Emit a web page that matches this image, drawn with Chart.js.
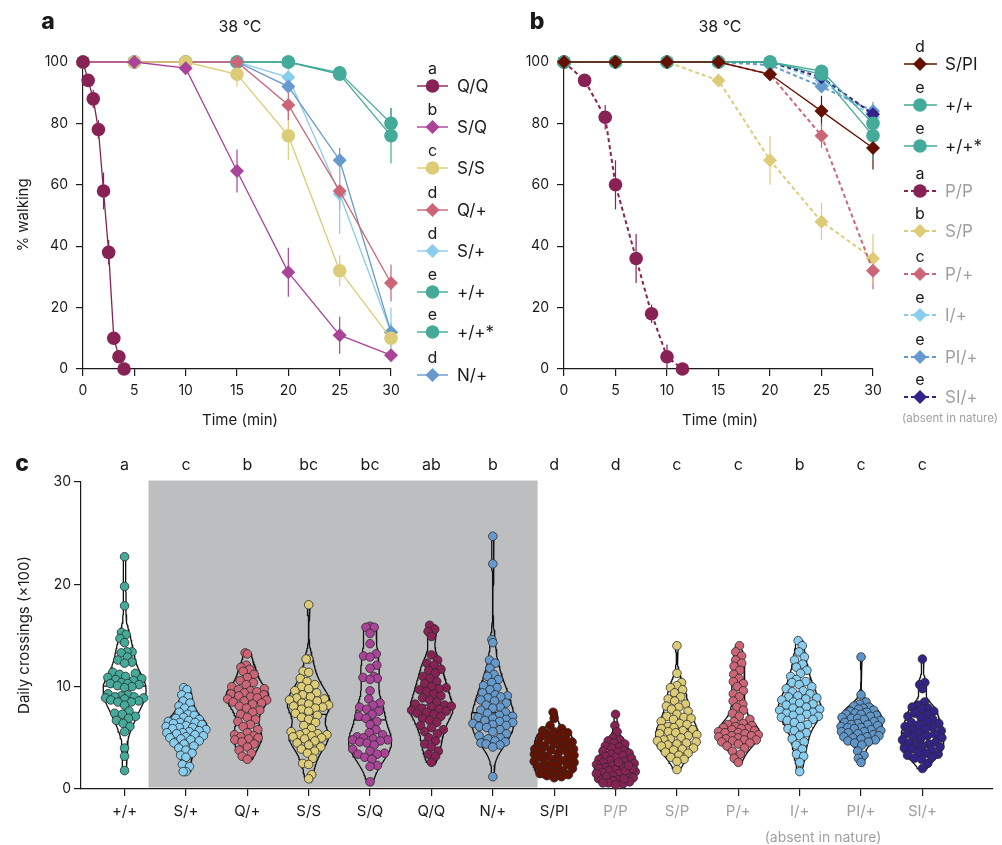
<!DOCTYPE html>
<html>
<head>
<meta charset="utf-8">
<script src="https://cdn.jsdelivr.net/npm/chart.js@4.4.1/dist/chart.umd.min.js"></script>
<style>
  body { margin: 0; background: #fff; width: 1002px; height: 845px; position: relative; overflow: hidden;
         font-family: Inter, "Open Sans", sans-serif; color: #1a1a1a; }
  canvas { position: absolute; }
  .t { position: absolute; transform: translate(-50%, -50%); white-space: nowrap; }
  .rot { transform: translate(-50%, -50%) rotate(-90deg); }
  .pl { font-weight: 800; font-size: 23px; }
</style>
</head>
<body>
<canvas id="chartA" width="500" height="430" style="left:0;top:0"></canvas>
<canvas id="chartB" width="502" height="430" style="left:500px;top:0"></canvas>
<canvas id="chartC" width="1002" height="405" style="left:0;top:440px"></canvas>

<div class="t pl" style="left:48px;top:21px">a</div>
<div class="t pl" style="left:537px;top:21px">b</div>
<div class="t pl" style="left:22px;top:463px">c</div>
<div class="t" style="left:240px;top:26px;font-size:16px">38 °C</div>
<div class="t" style="left:720px;top:26px;font-size:16px">38 °C</div>
<div class="t rot" style="left:22px;top:215px;font-size:15px">% walking</div>
<div class="t" style="left:240px;top:419px;font-size:15px">Time (min)</div>
<div class="t" style="left:720px;top:419px;font-size:15px">Time (min)</div>
<div class="t" style="left:950px;top:418px;font-size:11.5px;color:#a0a0a0">(absent in nature)</div>
<div class="t rot" style="left:23px;top:635px;font-size:15px">Daily crossings (×100)</div>
<div class="t" style="left:823px;top:836px;font-size:14px;color:#a0a0a0">(absent in nature)</div>

<script>
// ---------- panel a : % walking at 38 °C ----------
var timesA = [0, 5, 10, 15, 20, 25, 30];
var timesQQ = [0, 0.5, 1, 1.5, 2, 2.5, 3, 3.5, 4];
var qqA = [100, 94, 88, 78, 58, 38, 10, 4, 0];
var qqErrA = [0, 1, 3, 3, 6, 4, 2, 1, 0];
var sqA = [100, 100, 98, 64.5, 31.5, 11, 4.5];
var sqErrA = [0, 0, 1, 7, 8, 6, 2];
var ssA = [100, 100, 100, 96, 76, 32, 10];
var ssErrA = [0, 0, 0, 4, 8, 5, 3];
var qpA = [100, 100, 100, 100, 86, 58, 28];
var qpErrA = [0, 0, 0, 1, 5, 6, 6];
var spA = [100, 100, 100, 100, 95, 57, 12];
var spErrA = [0, 0, 0, 0, 3, 13, 8];
var wtA = [100, 100, 100, 100, 100, 96.5, 80];
var wtErrA = [0, 0, 0, 0, 0, 2, 5];
var wt2A = [100, 100, 100, 100, 100, 96, 76];
var wt2ErrA = [0, 0, 0, 0, 0, 2, 9];
var npA = [100, 100, 100, 100, 92, 68, 12];
var npErrA = [0, 0, 0, 0, 2, 4, 3];

// ---------- panel b ----------
var timesB = [0, 5, 10, 15, 20, 25, 30];
var timesPP = [0, 2, 4, 5, 7, 8.5, 10, 11.5];
var spiB = [100, 100, 100, 100, 96, 84, 72];
var spiErrB = [0, 0, 0, 0, 1, 5, 7];
var wtB = [100, 100, 100, 100, 100, 97, 80];
var wtErrB = [0, 0, 0, 0, 0, 2, 4];
var wt2B = [100, 100, 100, 100, 100, 96, 76];
var wt2ErrB = [0, 0, 0, 0, 0, 2, 8];
var ppB = [100, 94, 82, 60, 36, 18, 4, 0];
var ppErrB = [0, 1, 4, 8, 8, 3, 4, 0];
var sPB = [100, 100, 100, 94, 68, 48, 36];
var sPErrB = [0, 0, 0, 1, 8, 6, 8];
var pPlusB = [100, 100, 100, 100, 96, 76, 32];
var pPlusErrB = [0, 0, 0, 0, 1, 4, 6];
var iPlusB = [100, 100, 100, 100, 100, 94, 82];
var iPlusErrB = [0, 0, 0, 0, 0, 1, 3];
var piPlusB = [100, 100, 100, 100, 99, 92, 84];
var piPlusErrB = [0, 0, 0, 0, 0, 1, 3];
var siPlusB = [100, 100, 100, 100, 100, 95, 83];
var siPlusErrB = [0, 0, 0, 0, 0, 1, 2];

// ---------- panel c : daily crossings (x100) ----------
var catLabels = ['+/+', 'S/+', 'Q/+', 'S/S', 'S/Q', 'Q/Q', 'N/+', 'S/PI', 'P/P', 'S/P', 'P/+', 'I/+', 'PI/+', 'SI/+'];
var catLetters = ['a', 'c', 'b', 'bc', 'bc', 'ab', 'b', 'd', 'd', 'c', 'c', 'b', 'c', 'c'];
var wtC = [22.7, 19.8, 17.9, 15.3, 15.1, 14.7, 14.3, 13.4, 13.4, 13.3, 12.9, 12.6, 12.4, 12.3, 11.4, 11.3, 11.2, 11.0, 10.9, 10.8, 10.7, 10.6, 10.4, 10.3, 10.3, 10.2, 10.1, 10.0, 9.9, 9.3, 9.2, 9.1, 9.0, 9.0, 8.9, 8.9, 8.8, 8.7, 8.6, 8.5, 8.5, 8.2, 7.6, 7.4, 7.3, 7.1, 6.9, 6.7, 6.4, 6.1, 5.6, 4.0, 3.2, 1.8];
var sPlusC = [9.9, 9.7, 9.2, 9.0, 8.6, 8.4, 8.1, 7.9, 7.7, 7.5, 7.3, 7.2, 7.0, 6.9, 6.8, 6.7, 6.6, 6.5, 6.5, 6.4, 6.3, 6.2, 6.1, 6.0, 6.0, 5.9, 5.8, 5.7, 5.6, 5.5, 5.5, 5.4, 5.3, 5.2, 5.1, 5.0, 4.9, 4.8, 4.7, 4.5, 4.4, 4.2, 4.0, 3.8, 3.5, 3.3, 3.1, 2.4, 2.2, 1.7, 1.7];
var qPlusC = [13.3, 13.2, 12.1, 11.9, 11.7, 11.5, 11.2, 10.9, 10.6, 10.4, 10.2, 10.0, 9.8, 9.7, 9.6, 9.5, 9.4, 9.3, 9.2, 9.1, 9.0, 8.9, 8.8, 8.7, 8.6, 8.5, 8.4, 8.3, 8.1, 7.9, 7.7, 7.5, 7.3, 7.0, 6.8, 6.6, 6.3, 6.1, 5.8, 5.5, 5.3, 5.2, 5.1, 5.0, 4.9, 4.8, 4.6, 4.4, 4.1, 3.8, 3.5, 3.2, 2.9];
var ssC = [18.0, 12.7, 12.7, 11.5, 11.4, 10.8, 10.5, 10.2, 10.0, 9.8, 9.6, 9.4, 9.2, 9.0, 8.9, 8.8, 8.7, 8.6, 8.4, 8.3, 8.2, 8.1, 8.0, 7.9, 7.8, 7.6, 7.4, 7.2, 7.0, 6.8, 6.5, 6.2, 5.9, 5.6, 5.5, 5.4, 5.3, 5.3, 5.2, 5.1, 5.0, 4.9, 4.7, 4.5, 4.3, 4.1, 3.9, 3.7, 3.5, 3.0, 2.5, 2.4, 1.4, 1.0];
var sqC = [15.9, 15.8, 15.8, 15.2, 14.2, 13.2, 13.0, 12.9, 12.1, 11.8, 11.0, 10.9, 10.8, 10.7, 9.6, 8.8, 8.4, 8.2, 8.0, 7.8, 7.6, 7.3, 7.1, 6.9, 6.6, 6.3, 5.8, 5.5, 5.3, 5.1, 5.0, 4.9, 4.8, 4.8, 4.7, 4.6, 4.5, 4.3, 3.9, 3.7, 3.5, 3.4, 3.4, 3.1, 2.9, 2.3, 2.2, 0.7];
var qqC = [16.0, 15.6, 15.4, 14.9, 13.1, 12.6, 12.3, 12.1, 11.7, 11.6, 11.3, 11.0, 10.8, 10.5, 10.3, 10.0, 9.9, 9.8, 9.7, 9.5, 9.3, 9.1, 8.9, 8.7, 8.5, 8.3, 8.2, 8.1, 8.0, 7.9, 7.8, 7.7, 7.6, 7.5, 7.4, 7.3, 7.1, 6.9, 6.7, 6.5, 6.2, 6.0, 5.8, 5.6, 5.4, 5.0, 4.7, 4.4, 4.1, 3.7, 3.4, 3.2, 2.6];
var nPlusC = [24.7, 22.0, 14.6, 14.3, 12.6, 12.3, 11.8, 11.2, 11.0, 10.7, 10.4, 10.1, 9.9, 9.7, 9.4, 9.2, 9.1, 9.0, 8.9, 8.7, 8.6, 8.4, 8.2, 8.0, 7.9, 7.7, 7.5, 7.4, 7.2, 7.1, 7.0, 6.9, 6.8, 6.7, 6.6, 6.5, 6.4, 6.3, 6.2, 6.1, 6.0, 5.8, 5.6, 5.4, 5.2, 5.0, 4.9, 4.7, 4.6, 4.5, 4.4, 4.3, 4.1, 1.2];
var spiC = [7.5, 6.9, 6.2, 5.9, 5.7, 5.6, 5.5, 5.4, 5.3, 5.1, 5.0, 4.9, 4.8, 4.7, 4.5, 4.4, 4.3, 4.2, 4.0, 3.9, 3.9, 3.8, 3.7, 3.5, 3.4, 3.3, 3.2, 3.1, 3.0, 2.9, 2.8, 2.7, 2.6, 2.5, 2.4, 2.4, 2.3, 2.2, 2.0, 1.9, 1.8, 1.7, 1.6, 1.5, 1.4, 1.3, 1.2, 1.1, 4.6, 3.6];
var ppC = [7.3, 6.2, 5.6, 5.0, 4.8, 4.7, 4.5, 4.4, 4.2, 4.1, 4.0, 3.8, 3.7, 3.6, 3.5, 3.4, 3.3, 3.2, 3.1, 3.0, 2.9, 2.8, 2.7, 2.6, 2.5, 2.4, 2.3, 2.2, 2.1, 2.0, 1.9, 1.8, 1.7, 1.6, 1.5, 1.4, 1.3, 1.2, 1.1, 1.0, 0.9, 0.8, 0.7, 0.6, 0.5, 0.4, 1.5, 2.0, 2.6, 1.0, 0.6, 1.8, 2.3];
var sPC = [14.0, 11.3, 10.4, 10.1, 9.9, 9.7, 9.4, 9.0, 8.8, 8.6, 8.3, 8.1, 8.0, 7.8, 7.6, 7.3, 7.1, 7.0, 6.9, 6.8, 6.6, 6.4, 6.3, 6.1, 6.0, 5.9, 5.8, 5.7, 5.6, 5.5, 5.4, 5.3, 5.2, 5.0, 4.9, 4.8, 4.7, 4.6, 4.5, 4.4, 4.3, 4.2, 4.0, 3.9, 3.8, 3.6, 3.5, 3.3, 3.1, 2.9, 2.7, 1.9];
var pPlusC = [14.0, 13.4, 13.0, 12.6, 12.3, 12.0, 11.6, 11.2, 10.8, 10.5, 10.3, 10.0, 9.6, 9.3, 9.0, 8.6, 8.3, 8.0, 7.7, 7.4, 7.1, 6.8, 6.6, 6.4, 6.3, 6.2, 6.1, 6.0, 5.9, 5.9, 5.8, 5.7, 5.6, 5.5, 5.5, 5.4, 5.3, 5.2, 5.2, 5.1, 5.0, 4.9, 4.8, 4.8, 4.7, 4.6, 4.5, 4.4, 4.2, 4.0, 3.7, 3.4, 3.0, 2.6];
var iPlusC = [14.5, 14.0, 13.4, 12.9, 12.6, 12.2, 11.9, 11.6, 11.3, 11.0, 10.7, 10.5, 10.4, 10.2, 10.0, 9.8, 9.6, 9.5, 9.3, 9.1, 9.0, 8.9, 8.8, 8.7, 8.5, 8.4, 8.3, 8.2, 8.0, 7.9, 7.8, 7.7, 7.6, 7.5, 7.4, 7.3, 7.2, 7.1, 7.0, 6.9, 6.8, 6.7, 6.5, 6.3, 6.1, 5.9, 5.7, 5.5, 5.2, 4.9, 4.6, 4.3, 3.9, 3.4, 3.2, 2.6, 1.7];
var piPlusC = [12.9, 9.2, 8.5, 8.3, 8.1, 8.0, 7.9, 7.8, 7.7, 7.6, 7.5, 7.4, 7.3, 7.3, 7.2, 7.1, 7.0, 6.9, 6.9, 6.8, 6.7, 6.6, 6.5, 6.4, 6.3, 6.3, 6.2, 6.1, 6.0, 6.0, 5.9, 5.8, 5.7, 5.6, 5.6, 5.5, 5.4, 5.3, 5.2, 5.1, 5.1, 5.0, 4.9, 4.8, 4.7, 4.6, 4.5, 4.3, 3.7, 3.3, 3.0, 2.6];
var siPlusC = [12.7, 10.4, 10.2, 9.8, 8.5, 8.2, 8.0, 7.9, 7.8, 7.6, 7.4, 7.3, 7.1, 7.0, 6.8, 6.6, 6.5, 6.4, 6.3, 6.1, 6.0, 5.9, 5.8, 5.7, 5.5, 5.4, 5.3, 5.2, 5.1, 5.0, 4.9, 4.8, 4.6, 4.5, 4.4, 4.3, 4.2, 4.1, 4.0, 3.9, 3.8, 3.6, 3.5, 3.4, 3.3, 3.1, 3.0, 2.9, 2.5, 2.0];
var catValues = [wtC, sPlusC, qPlusC, ssC, sqC, qqC, nPlusC, spiC, ppC, sPC, pPlusC, iPlusC, piPlusC, siPlusC];
var catColors = ['#44aa99', '#88ccee', '#cc6677', '#ddcc77', '#aa4499', '#882255', '#6699cc',
                 '#661100', '#882255', '#ddcc77', '#cc6677', '#88ccee', '#5e96c9', '#332288'];

var FONT = 'Inter, "Open Sans", sans-serif';
var INK = '#1a1a1a';

function pts(xs, ys) { return xs.map(function (x, i) { return { x: x, y: ys[i] }; }); }

function line(label, xs, ys, errs, color, shape, dashed) {
  return {
    label: label, data: pts(xs, ys), errs: errs, showLine: true,
    borderColor: color, backgroundColor: color, borderWidth: dashed ? 2 : 1.3,
    borderDash: dashed ? [4, 3] : [], pointStyle: shape === 'd' ? 'rectRot' : 'circle',
    pointRadius: shape === 'd' ? 7 : 6.8, pointBorderWidth: 0, pointHoverRadius: 7,
    tension: 0, clip: false
  };
}

// vertical error bars under the markers
var errorBars = {
  id: 'errorBars',
  beforeDatasetsDraw: function (chart) {
    var c = chart.ctx, sx = chart.scales.x, sy = chart.scales.y;
    c.save();
    chart.data.datasets.forEach(function (ds) {
      if (!ds.errs) return;
      c.strokeStyle = ds.borderColor; c.lineWidth = 1.2;
      ds.data.forEach(function (p, i) {
        var e = ds.errs[i];
        if (!e) return;
        var px = sx.getPixelForValue(p.x);
        c.beginPath();
        c.moveTo(px, sy.getPixelForValue(p.y - e));
        c.lineTo(px, sy.getPixelForValue(Math.min(100, p.y + e)));
        c.stroke();
      });
    });
    c.restore();
  }
};

function marker(c, shape, x, y) {
  c.beginPath();
  if (shape === 'd') {
    c.moveTo(x, y - 7); c.lineTo(x + 7, y); c.lineTo(x, y + 7); c.lineTo(x - 7, y); c.closePath();
  } else {
    c.arc(x, y, 6.8, 0, Math.PI * 2);
  }
  c.fill();
}

function sideLegend(items, geo) {
  return {
    id: 'sideLegend',
    afterDraw: function (chart) {
      var c = chart.ctx;
      c.save();
      items.forEach(function (it) {
        c.strokeStyle = it.color; c.lineWidth = it.dash ? 2 : 1.4;
        c.setLineDash(it.dash ? [4, 3] : []);
        c.beginPath(); c.moveTo(geo.x1, it.y); c.lineTo(geo.x2, it.y); c.stroke();
        c.setLineDash([]);
        c.fillStyle = it.color;
        marker(c, it.shape, geo.xm, it.y);
        c.fillStyle = INK; c.font = '16px ' + FONT; c.textAlign = 'center'; c.textBaseline = 'middle';
        c.fillText(it.letter, geo.xm, it.y - 17);
        c.fillStyle = it.grey ? '#a0a0a0' : INK; c.font = '17px ' + FONT; c.textAlign = 'left';
        c.fillText(it.label, geo.xl, it.y + 1);
      });
      c.restore();
    }
  };
}

function timeOptions(yWidth, padRight) {
  var tickFont = { family: FONT, size: 14 };
  return {
    responsive: false, animation: false, events: [],
    layout: { padding: { top: 62, right: padRight, bottom: 0, left: 0 } },
    plugins: { legend: { display: false }, tooltip: { enabled: false } },
    scales: {
      x: {
        type: 'linear', min: 0, max: 30,
        ticks: { stepSize: 5, font: tickFont, color: INK, padding: 6, maxRotation: 0 },
        grid: { drawOnChartArea: false, color: INK, tickLength: 7, lineWidth: 1.2 },
        border: { color: INK, width: 1.2 },
        afterFit: function (s) { s.height = 61; }
      },
      y: {
        min: 0, max: 100,
        ticks: { stepSize: 20, font: tickFont, color: INK, padding: 8 },
        grid: { drawOnChartArea: false, color: INK, tickLength: 7, lineWidth: 1.2 },
        border: { color: INK, width: 1.2 },
        afterFit: function (s) { s.width = yWidth; }
      }
    }
  };
}

new Chart(document.getElementById('chartA'), {
  type: 'scatter',
  data: {
    datasets: [
      line('Q/Q', timesQQ, qqA, qqErrA, '#882255', 'c', false),
      line('S/Q', timesA, sqA, sqErrA, '#aa4499', 'd', false),
      line('S/S', timesA, ssA, ssErrA, '#ddcc77', 'c', false),
      line('Q/+', timesA, qpA, qpErrA, '#cc6677', 'd', false),
      line('N/+', timesA, npA, npErrA, '#6699cc', 'd', false),
      line('S/+', timesA, spA, spErrA, '#88ccee', 'd', false),
      line('+/+', timesA, wtA, wtErrA, '#44aa99', 'c', false),
      line('+/+*', timesA, wt2A, wt2ErrA, '#44aa99', 'c', false)
    ]
  },
  options: timeOptions(83, 109),
  plugins: [errorBars, sideLegend([
    { letter: 'a', label: 'Q/Q', color: '#882255', shape: 'c', y: 86 },
    { letter: 'b', label: 'S/Q', color: '#aa4499', shape: 'd', y: 127 },
    { letter: 'c', label: 'S/S', color: '#ddcc77', shape: 'c', y: 168 },
    { letter: 'd', label: 'Q/+', color: '#cc6677', shape: 'd', y: 210 },
    { letter: 'd', label: 'S/+', color: '#88ccee', shape: 'd', y: 251 },
    { letter: 'e', label: '+/+', color: '#44aa99', shape: 'c', y: 292 },
    { letter: 'e', label: '+/+*', color: '#44aa99', shape: 'c', y: 332 },
    { letter: 'd', label: 'N/+', color: '#6699cc', shape: 'd', y: 375 }
  ], { x1: 417, x2: 448, xm: 432.5, xl: 457 })]
});

new Chart(document.getElementById('chartB'), {
  type: 'scatter',
  data: {
    datasets: [
      line('S/PI', timesB, spiB, spiErrB, '#661100', 'd', false),
      line('+/+', timesB, wtB, wtErrB, '#44aa99', 'c', false),
      line('+/+*', timesB, wt2B, wt2ErrB, '#44aa99', 'c', false),
      line('SI/+', timesB, siPlusB, siPlusErrB, '#332288', 'd', true),
      line('PI/+', timesB, piPlusB, piPlusErrB, '#6699cc', 'd', true),
      line('I/+', timesB, iPlusB, iPlusErrB, '#88ccee', 'd', true),
      line('P/+', timesB, pPlusB, pPlusErrB, '#cc6677', 'd', true),
      line('S/P', timesB, sPB, sPErrB, '#ddcc77', 'd', true),
      line('P/P', timesPP, ppB, ppErrB, '#882255', 'c', true)
    ]
  },
  options: timeOptions(64, 129),
  plugins: [errorBars, sideLegend([
    { letter: 'd', label: 'S/PI', color: '#661100', shape: 'd', y: 64 },
    { letter: 'e', label: '+/+', color: '#44aa99', shape: 'c', y: 105 },
    { letter: 'e', label: '+/+*', color: '#44aa99', shape: 'c', y: 146 },
    { letter: 'a', label: 'P/P', color: '#882255', shape: 'c', y: 191, dash: true, grey: true },
    { letter: 'b', label: 'S/P', color: '#ddcc77', shape: 'd', y: 231, dash: true, grey: true },
    { letter: 'c', label: 'P/+', color: '#cc6677', shape: 'd', y: 274, dash: true, grey: true },
    { letter: 'e', label: 'I/+', color: '#88ccee', shape: 'd', y: 315, dash: true, grey: true },
    { letter: 'e', label: 'PI/+', color: '#6699cc', shape: 'd', y: 357, dash: true, grey: true },
    { letter: 'e', label: 'SI/+', color: '#332288', shape: 'd', y: 397, dash: true, grey: true }
  ], { x1: 404, x2: 437, xm: 420, xl: 445 })]
});

// ---------- panel c: violins + beeswarm ----------
var PX_Y = 307.6 / 30;   // pixels per crossing unit
var PX_X = 61.4;         // pixels per category
var DOT = 7.4;           // spacing between dot centres
var HALF_W = 0.35;       // widest half of a violin, in categories

function kde(vals) {
  var n = vals.length;
  var mean = vals.reduce(function (a, b) { return a + b; }, 0) / n;
  var sd = Math.sqrt(vals.reduce(function (a, b) { return a + (b - mean) * (b - mean); }, 0) / (n - 1));
  var h = 0.6 * 1.06 * sd * Math.pow(n, -0.2);
  return function (y) {
    var d = 0;
    vals.forEach(function (v) { d += Math.exp(-0.5 * Math.pow((y - v) / h, 2)); });
    return d;
  };
}

// beeswarm kept inside the violin outline (capPx gives the room at a value)
function swarm(vals, capPx) {
  var placed = [], offs = [];
  var order = vals.map(function (v, i) { return i; }).sort(function (a, b) { return vals[a] - vals[b]; });
  order.forEach(function (i) {
    var y = vals[i] * PX_Y;
    var cap = Math.max(0, capPx(vals[i]));
    var near = placed.filter(function (p) { return Math.abs(p.y - y) < DOT; });
    var free = function (cx) {
      return near.every(function (p) { return (p.x - cx) * (p.x - cx) + (p.y - y) * (p.y - y) >= DOT * DOT - 0.01; });
    };
    var cands = [0];
    near.forEach(function (p) {
      var dx = Math.sqrt(DOT * DOT - (p.y - y) * (p.y - y));
      cands.push(p.x + dx, p.x - dx);
    });
    cands = cands.filter(function (cx) { return Math.abs(cx) <= cap + 0.01; });
    cands.sort(function (a, b) { return Math.abs(a) - Math.abs(b); });
    var x = cands.find(free);
    if (x === undefined) {
      // no free spot: take the least crowded spot inside the outline
      var best = 0, bestD = -1;
      for (var s = 0; s <= 12; s++) {
        var cx = -cap + 2 * cap * s / 12, dmin = Infinity;
        near.forEach(function (p) { dmin = Math.min(dmin, Math.hypot(p.x - cx, p.y - y)); });
        if (dmin > bestD) { bestD = dmin; best = cx; }
      }
      x = best;
    }
    placed.push({ x: x, y: y });
    offs[i] = x / PX_X;
  });
  return offs;
}

var dotSets = [], violinSets = [];
catValues.forEach(function (vals, ci) {
  var f = kde(vals);
  var lo = Math.min.apply(null, vals), hi = Math.max.apply(null, vals);
  var ys = [], ds = [];
  for (var k = 0; k <= 100; k++) { var y = lo + (hi - lo) * k / 100; ys.push(y); ds.push(f(y)); }
  var dmax = Math.max.apply(null, ds);
  var offs = swarm(vals, function (v) { return HALF_W * PX_X * f(v) / dmax - 1.5; });
  dotSets.push({
    data: vals.map(function (v, i) { return { x: ci + offs[i], y: v }; }),
    backgroundColor: catColors[ci], borderColor: '#2b2b2b', borderWidth: 0.8,
    pointRadius: 4.3, pointHoverRadius: 4.3, order: 0, clip: false
  });
  var left = ys.map(function (y, k) { return { x: ci - HALF_W * ds[k] / dmax, y: y }; });
  var right = ys.map(function (y, k) { return { x: ci + HALF_W * ds[k] / dmax, y: y }; }).reverse();
  violinSets.push({
    data: left.concat(right, [left[0]]), showLine: true, fill: false,
    borderColor: '#111', borderWidth: 1.3, pointRadius: 0, tension: 0, order: 1, clip: false
  });
  var sorted = vals.slice().sort(function (a, b) { return a - b; });
  var m = sorted.length % 2 ? sorted[(sorted.length - 1) / 2] : (sorted[sorted.length / 2 - 1] + sorted[sorted.length / 2]) / 2;
  var w = HALF_W * f(m) / dmax;
  violinSets.push({
    data: [{ x: ci - w, y: m }, { x: ci + w, y: m }], showLine: true, fill: false,
    borderColor: '#111', borderWidth: 1.3, pointRadius: 0, order: 1, clip: false
  });
});

var shadeAndLetters = {
  id: 'shadeAndLetters',
  beforeDatasetsDraw: function (chart) {
    var c = chart.ctx, sx = chart.scales.x, a = chart.chartArea;
    c.save();
    c.fillStyle = '#bdbec0';
    var x0 = sx.getPixelForValue(0.39), x1 = sx.getPixelForValue(6.73);
    c.fillRect(x0, a.top - 1.5, x1 - x0, a.bottom - a.top);
    c.restore();
  },
  afterDraw: function (chart) {
    var c = chart.ctx, sx = chart.scales.x, a = chart.chartArea;
    c.save();
    c.fillStyle = INK; c.font = '16px ' + FONT; c.textAlign = 'center'; c.textBaseline = 'middle';
    catLetters.forEach(function (l, i) { c.fillText(l, sx.getPixelForValue(i), a.top - 17); });
    c.restore();
  }
};

new Chart(document.getElementById('chartC'), {
  type: 'scatter',
  data: { datasets: dotSets.concat(violinSets) },
  options: {
    responsive: false, animation: false, events: [],
    layout: { padding: { top: 42, right: 9, bottom: 0, left: 0 } },
    plugins: { legend: { display: false }, tooltip: { enabled: false } },
    scales: {
      x: {
        type: 'linear', min: -0.71, max: 14.15,
        afterBuildTicks: function (s) { s.ticks = catLabels.map(function (l, i) { return { value: i }; }); },
        ticks: {
          font: { family: FONT, size: 15 }, padding: 6, maxRotation: 0, autoSkip: false,
          color: function (ctx) { return ctx.index < 8 ? INK : '#a0a0a0'; },
          callback: function (v) { return catLabels[Math.round(v)]; }
        },
        grid: { drawOnChartArea: false, color: INK, tickLength: 7, lineWidth: 1.2 },
        border: { color: INK, width: 1.2 },
        afterFit: function (s) { s.height = 56; }
      },
      y: {
        min: 0, max: 30,
        ticks: { stepSize: 10, font: { family: FONT, size: 14 }, color: INK, padding: 3 },
        grid: { drawOnChartArea: false, color: INK, tickLength: 7, lineWidth: 1.2 },
        border: { color: INK, width: 1.2 },
        afterFit: function (s) { s.width = 81; }
      }
    }
  },
  plugins: [shadeAndLetters]
});
</script>
</body>
</html>
